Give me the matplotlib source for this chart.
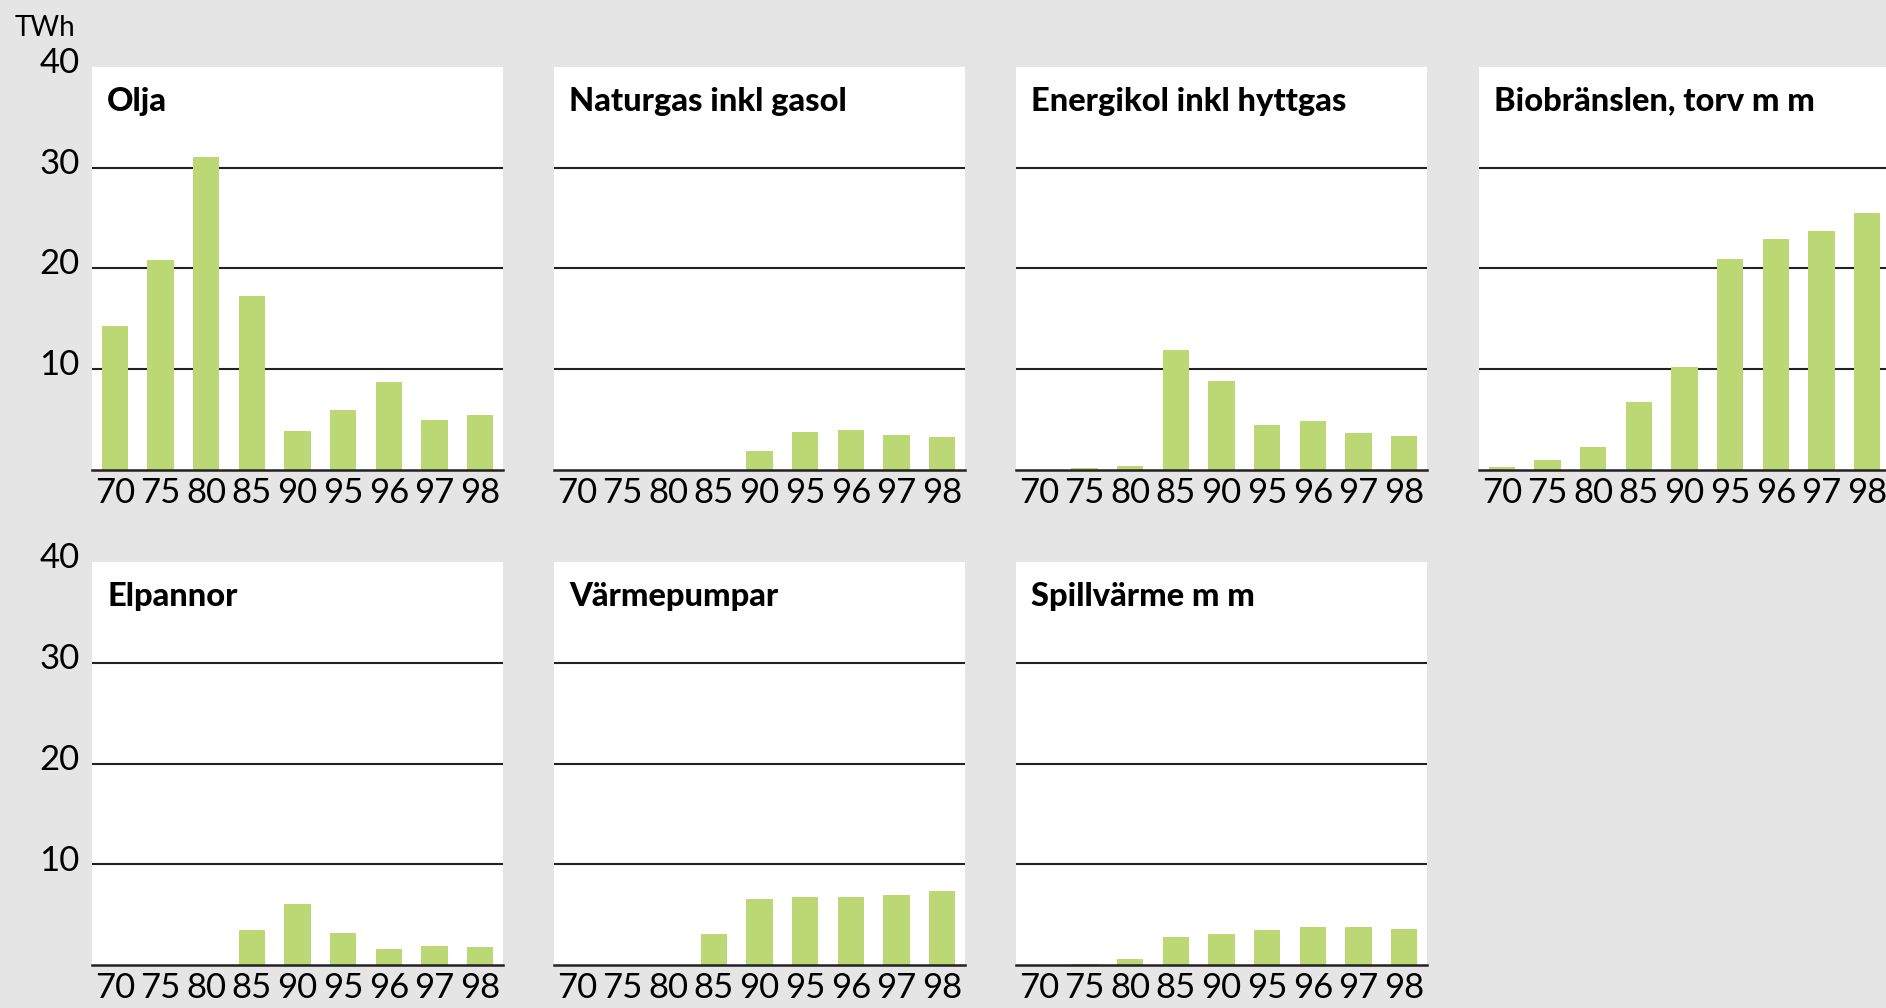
import matplotlib
matplotlib.use("Agg")
import matplotlib.pyplot as plt
from matplotlib.transforms import ScaledTranslation

years = ["70", "75", "80", "85", "90", "95", "96", "97", "98"]

olja = [14.3, 20.8, 31.0, 17.3, 3.9, 6.0, 8.7, 5.0, 5.5]
naturgas = [0, 0, 0, 0, 1.85, 3.75, 4.0, 3.45, 3.25]
energikol = [0, 0.17, 0.36, 11.9, 8.8, 4.45, 4.85, 3.65, 3.35]
biobransle = [0.26, 0.96, 2.25, 6.7, 10.2, 20.9, 22.9, 23.7, 25.5]
elpannor = [0, 0.05, 0.05, 3.55, 6.1, 3.2, 1.6, 1.9, 1.8]
varmepumpar = [0, 0, 0, 3.1, 6.6, 6.75, 6.75, 6.95, 7.35]
spillvarme = [0, 0.13, 0.63, 2.8, 3.1, 3.5, 3.8, 3.8, 3.6]

titles = ["Olja", "Naturgas inkl gasol", "Energikol inkl hyttgas",
          "Biobränslen, torv m m", "Elpannor", "Värmepumpar", "Spillvärme m m"]
series = [olja, naturgas, energikol, biobransle, elpannor, varmepumpar, spillvarme]

W, H = 1886, 1008
bg = "#e5e5e5"
green = "#bcd874"
num_font = dict(family="Lato", weight="normal", color="black")

fig = plt.figure(figsize=(W / 100, H / 100), dpi=100, facecolor=bg)

lefts = [92, 554, 1016, 1479]
tops = [66.7, 562]
box_w, box_h = 411, 403.3

for i, (name, vals) in enumerate(zip(titles, series)):
    row, col = divmod(i, 4)
    l, t = lefts[col], tops[row]
    ax = fig.add_axes([l / W, 1 - (t + box_h) / H, box_w / W, box_h / H])
    ax.set_facecolor("white")
    ax.bar(range(len(years)), vals, width=0.57, color=green, zorder=3)
    ax.set_xlim(-0.5, len(years) - 0.5)
    ax.set_ylim(0, 40)
    for v in (10, 20, 30):
        ax.axhline(v, color="#222222", lw=1.5, zorder=1)
    for s in ("top", "left", "right"):
        ax.spines[s].set_visible(False)
    ax.spines["bottom"].set_color("#222222")
    ax.spines["bottom"].set_linewidth(1.8)
    ax.spines["bottom"].set_zorder(4)
    ax.set_xticks(range(len(years)))
    ax.set_xticklabels(years, fontdict=dict(size=25, **num_font))
    ax.tick_params(axis="x", length=0, pad=5)
    ax.set_yticks([10, 20, 30, 40])
    if col == 0:
        ax.set_yticklabels(["10", "20", "30", "40"], fontdict=dict(size=25, **num_font))
        ax.tick_params(axis="y", length=0, pad=9)
        # labels sit a little above their gridlines in the original
        shift = ScaledTranslation(0, 5 / 72, fig.dpi_scale_trans)
        for lab in ax.get_yticklabels():
            lab.set_transform(lab.get_transform() + shift)
    else:
        ax.set_yticklabels([])
        ax.tick_params(axis="y", length=0)
    ax.text(15 / box_w, 1 - 44 / box_h, name, transform=ax.transAxes,
            fontsize=23.5, fontweight="black", family="Lato", va="baseline", ha="left")

fig.text(15 / W, 1 - 28 / H, "TWh", fontsize=20, va="center", ha="left", **num_font)

fig.savefig("out.png", dpi=100, facecolor=bg)
